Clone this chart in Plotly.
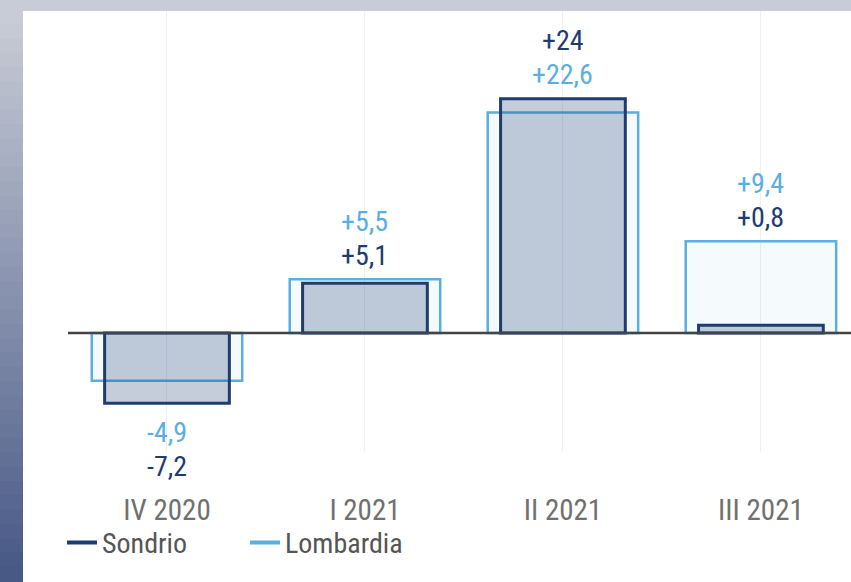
import plotly.graph_objects as go

# Variazione percentuale (trimestre su trimestre anno precedente)
quarters = ["IV 2020", "I 2021", "II 2021", "III 2021"]
sondrio = [-7.2, 5.1, 24.0, 0.8]
lombardia = [-4.9, 5.5, 22.6, 9.4]

DARK = "#1f3c70"
LIGHT = "#5aaee0"
FONT = "Roboto Condensed, Open Sans Condensed, Roboto, sans-serif"


def fmt(v):
    s = f"{v:+.1f}".replace(".", ",")
    if s.endswith(",0"):
        s = s[:-2]
    return s


fig = go.Figure()

fig.add_trace(go.Bar(
    x=quarters, y=lombardia, width=0.76, name="Lombardia", showlegend=False,
    marker=dict(color="rgba(90,174,224,0.06)", line=dict(color=LIGHT, width=2.5)),
    hoverinfo="skip",
))
fig.add_trace(go.Bar(
    x=quarters, y=sondrio, width=0.63, name="Sondrio", showlegend=False,
    marker=dict(color="rgba(31,60,112,0.26)", line=dict(color=DARK, width=3)),
    hoverinfo="skip",
))

# legend entries drawn as short lines
fig.add_trace(go.Scatter(x=[None], y=[None], mode="lines", name="Sondrio",
                         line=dict(color=DARK, width=4)))
fig.add_trace(go.Scatter(x=[None], y=[None], mode="lines", name="Lombardia",
                         line=dict(color=LIGHT, width=4)))

# value labels: larger magnitude further from the bars
for q, s, l in zip(quarters, sondrio, lombardia):
    pair = sorted([(s, DARK), (l, LIGHT)], key=lambda t: abs(t[0]))
    if max(s, l) > 0:
        edge = max(s, l)
        shifts = [24, 58]
    else:
        edge = min(s, l)
        shifts = [-29, -63]
    for (v, col), sh in zip(pair, shifts):
        fig.add_annotation(x=q, y=edge, text=fmt(v), showarrow=False,
                           yshift=sh, yanchor="middle",
                           font=dict(family=FONT, size=28, color=col))

# zero line above the bars
fig.add_shape(type="line", xref="paper", yref="y", x0=0, x1=1, y0=0, y1=0,
              line=dict(color="#444444", width=2.5), layer="above")

# frame: grey band on top and gradient strip on the left
fig.add_shape(type="rect", xref="paper", yref="paper", x0=-0.1, x1=1.1,
              y0=1.0, y1=1.05, fillcolor="#c8ccd6", line_width=0, layer="above")
n = 40
top = (200, 204, 214)
bot = (72, 89, 134)
h_tot = 582 - 11
for i in range(n):
    t = i / (n - 1)
    c = tuple(int(top[k] + (bot[k] - top[k]) * t) for k in range(3))
    # pixel rows converted to paper coords (plot area y 11..452, height 441)
    py0 = 11 + h_tot * i / n - 1
    py1 = 11 + h_tot * (i + 1) / n + 1
    fig.add_shape(type="rect", xref="paper", yref="paper",
                  x0=(0 - 68) / 783, x1=(23 - 68) / 783,
                  y0=(452 - py1) / 441, y1=(452 - py0) / 441,
                  fillcolor="rgb(%d,%d,%d)" % c, line_width=0, layer="above")
fig.add_shape(type="rect", xref="paper", yref="paper",
              x0=(0 - 68) / 783, x1=(23 - 68) / 783,
              y0=(452 - 12) / 441, y1=(452 + 1) / 441,
              fillcolor="rgb(200,204,214)", line_width=0, layer="above")

fig.update_layout(
    width=851, height=582,
    margin=dict(l=68, r=0, t=11, b=130),
    barmode="overlay",
    paper_bgcolor="white", plot_bgcolor="white",
    font=dict(family=FONT, color="#666666"),
    showlegend=True,
    legend=dict(orientation="h", x=-6 / 783, xanchor="left", y=-0.206, yanchor="middle",
                font=dict(family=FONT, size=28, color="#555555"),
                entrywidth=138, entrywidthmode="pixels",
                bgcolor="rgba(0,0,0,0)"),
    xaxis=dict(range=[-0.5, 3.455], showgrid=True, gridcolor="#f0f0f2", gridwidth=1,
               showline=False, zeroline=False, ticks="",
               tickfont=dict(family=FONT, size=29, color="#707070"),
               ticklabelstandoff=38),
    yaxis=dict(range=[-12.2, 33.0], showgrid=False, zeroline=False,
               showticklabels=False, ticks=""),
)

# no page margin so the figure sits at the window's top-left corner
fig.write_html("out.html", config={"displayModeBar": False},
               post_script="document.body.style.margin='0';")
